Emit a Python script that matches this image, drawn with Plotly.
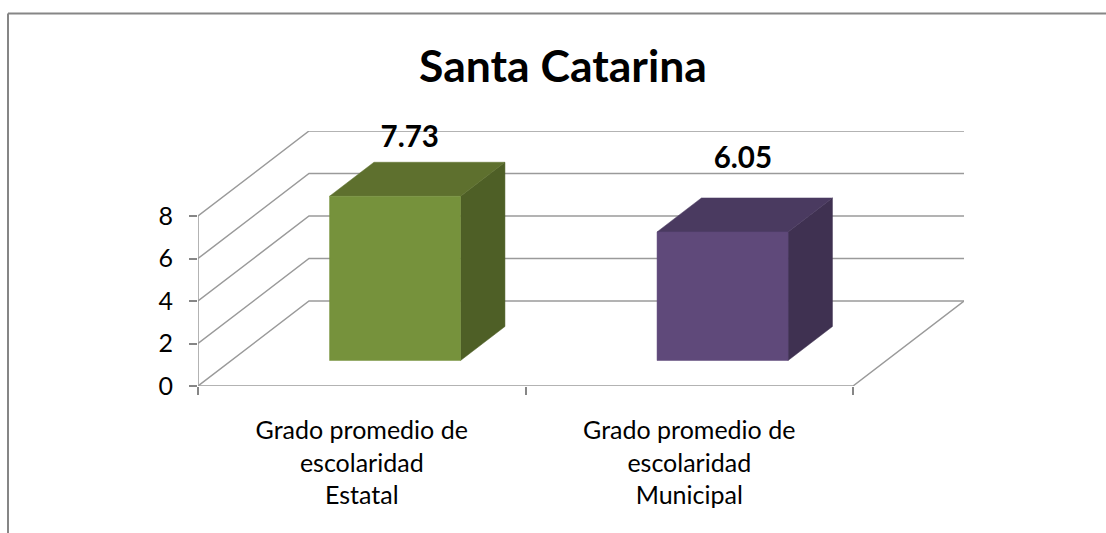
import plotly.graph_objects as go

# --- data ---
categories = ["Grado promedio de<br>escolaridad<br>Estatal", "Grado promedio de<br>escolaridad<br>Municipal"]
values = [7.73, 6.05]
value_labels = ["7.73", "6.05"]
y_ticks = [0, 2, 4, 6, 8]
title = "Santa Catarina"

# --- styles ---
FRONT = ["#76923C", "#5F497A"]
TOP = ["#5E702E", "#4A3A60"]
SIDE = ["#4E5F26", "#3F3151"]
GRID = "#9A9A9A"
FRAME = "#868686"
FONT = "Lato"
TEXT = "#000000"

# --- oblique projection: depth d in 0..1 shifts along x (category units) and y (value units) ---
SHEAR_X = 111 / 327.5
SHEAR_Y = 4.0
BAR_W = 0.4
D0, D1 = 0.3, 0.7
LABEL_DX = [0.045, 0.062]   # label placement in category units, measured from bar centre
LABEL_DY = [2.66, 3.37]     # label placement above bar's top-front edge, value units


def pr(c, v, d):
    return c + d * SHEAR_X, v + d * SHEAR_Y


def poly(points, color):
    xs, ys = zip(*[pr(*p) for p in points])
    return go.Scatter(x=list(xs) + [xs[0]], y=list(ys) + [ys[0]], mode="lines", fill="toself",
                      fillcolor=color, line=dict(color=color, width=0.5), hoverinfo="skip", showlegend=False)


def line(points, color=GRID, width=1.5):
    xs, ys = zip(*[pr(*p) for p in points])
    return go.Scatter(x=xs, y=ys, mode="lines", line=dict(color=color, width=width),
                      hoverinfo="skip", showlegend=False)


fig = go.Figure()
n = len(categories)

# walls and floor
for t in y_ticks:
    fig.add_trace(line([(0, t, 0), (0, t, 1), (n, t, 1)]))
fig.add_trace(line([(0, 0, 0), (0, y_ticks[-1], 0)]))
fig.add_trace(line([(0, 0, 0), (n, 0, 0), (n, 0, 1)]))

# bars
for i, v in enumerate(values):
    a, b = i + 0.3, i + 0.3 + BAR_W
    fig.add_trace(poly([(b, 0, D0), (b, 0, D1), (b, v, D1), (b, v, D0)], SIDE[i]))
    fig.add_trace(poly([(a, v, D0), (b, v, D0), (b, v, D1), (a, v, D1)], TOP[i]))
    fig.add_trace(poly([(a, 0, D0), (b, 0, D0), (b, v, D0), (a, v, D0)], FRONT[i]))

# value labels
lx, ly = [], []
for i, v in enumerate(values):
    x, y = pr(i + 0.5, v, D0)
    lx.append(x + LABEL_DX[i])
    ly.append(y + LABEL_DY[i])
fig.add_trace(go.Scatter(x=lx, y=ly, mode="text", text=value_labels, textposition="middle center",
                         textfont=dict(family=FONT, size=29.5, color=TEXT, weight="bold"),
                         cliponaxis=False, hoverinfo="skip", showlegend=False))

W, H = 1106, 533
L, R, T, B = 198, 964, 131, 386
fig.update_layout(
    width=W, height=H, autosize=False,
    margin=dict(l=L, r=W - R, t=T, b=H - B),
    paper_bgcolor="white", plot_bgcolor="white", showlegend=False,
    title=dict(text=title, x=563 / W, xanchor="center", y=1 - 66 / H, yanchor="middle",
               font=dict(family=FONT, size=44.5, color=TEXT, weight="bold")),
    xaxis=dict(range=[0, n + SHEAR_X], showgrid=False, zeroline=False, showline=False,
               tickmode="array", tickvals=[i + 0.5 for i in range(n)], ticktext=categories,
               ticks="", ticklabelstandoff=27, tickfont=dict(family=FONT, size=25, color=TEXT),
               minor=dict(tickmode="array", tickvals=list(range(n + 1)), ticks="outside",
                          ticklen=8, tickwidth=1.5, tickcolor=FRAME, showgrid=False)),
    yaxis=dict(range=[0, 12], showgrid=False, zeroline=False, showline=False,
               tickmode="array", tickvals=y_ticks, ticks="outside", ticklen=8, tickwidth=1.5,
               ticklabelstandoff=11,
               tickcolor=FRAME, tickfont=dict(family=FONT, size=25, color=TEXT)),
    shapes=[
        dict(type="line", xref="paper", yref="paper", x0=(8 - L) / (R - L), x1=(8 - L) / (R - L),
             y0=(B - H) / (B - T), y1=(B - 13.5) / (B - T), line=dict(color=FRAME, width=2)),
        dict(type="line", xref="paper", yref="paper", x0=(8 - L) / (R - L), x1=(W - L) / (R - L),
             y0=(B - 13.5) / (B - T), y1=(B - 13.5) / (B - T), line=dict(color=FRAME, width=2)),
    ],
)

fig.write_html("out.html", config=dict(displayModeBar=False),
               post_script="document.body.style.margin='0';document.body.style.overflow='hidden';")
